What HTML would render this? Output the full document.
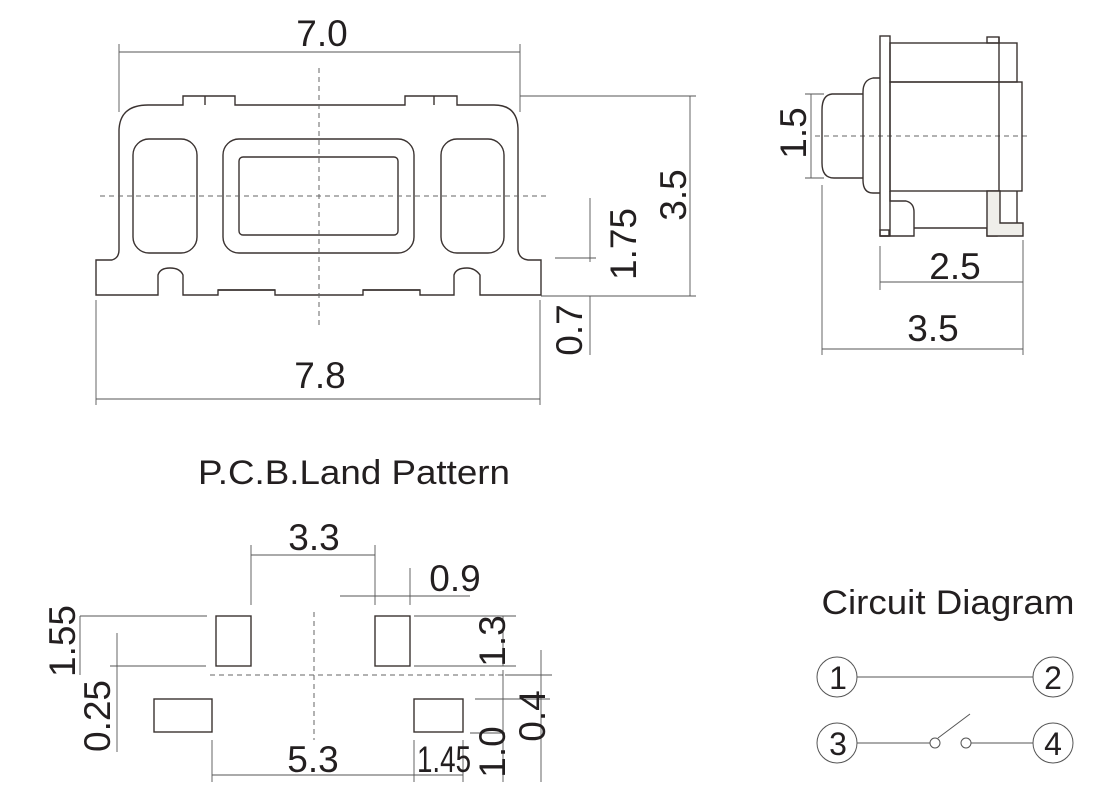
<!DOCTYPE html>
<html><head><meta charset="utf-8"><style>
html,body{margin:0;padding:0;background:#fff}
svg{display:block}
text{font-family:"Liberation Sans",Arial,sans-serif;fill:#231f20}
</style></head><body>
<svg width="1120" height="802" viewBox="0 0 1120 802" xmlns="http://www.w3.org/2000/svg">
<g fill="none" stroke="#3a3230" stroke-width="1.4">
<path d="M96 260 L112 260 Q119 258 119 250 L119 130 Q120 105 148 105 L183 105 L183 96 L235 96 L235 105 L405 105 L405 96 L457 96 L457 105 L494 105 Q518 105 518 130 L518 250 Q519 259 528 260 L541 260 L541 295 L480 295 L480 275 Q475 268 467 268 Q456 268 454 275 L454 295 L420 295 L420 290 L363 290 L363 295 L275 295 L275 290 L218 290 L218 295 L183 295 L183 275 Q180 268 170 268 Q160 268 158 275 L158 295 L96 295 Z"/>
<line x1="205" y1="96" x2="205" y2="105"/>
<line x1="434" y1="96" x2="434" y2="105"/>
<line x1="218" y1="290" x2="275" y2="290"/>
<line x1="363" y1="290" x2="420" y2="290"/>
<rect x="133" y="139" width="64" height="114" rx="16"/>
<rect x="223" y="139" width="191" height="114" rx="16"/>
<rect x="239" y="157" width="159" height="78" rx="4"/>
<rect x="441" y="139" width="63" height="114" rx="16"/>
</g>
<g stroke="#666" stroke-width="1" stroke-dasharray="5,4" fill="none">
<line x1="319" y1="68" x2="319" y2="325"/>
<line x1="100" y1="196" x2="548" y2="196"/>
<line x1="815" y1="136" x2="1030" y2="136"/>
<line x1="314" y1="612" x2="314" y2="740"/>
<line x1="210" y1="675" x2="550" y2="675"/>
</g>
<g stroke="#555" stroke-width="0.9" fill="none">
<line x1="119" y1="44" x2="119" y2="112"/><line x1="520" y1="44" x2="520" y2="112"/>
<line x1="119" y1="52" x2="520" y2="52"/>
<line x1="520" y1="96" x2="696" y2="96"/><line x1="541" y1="296" x2="696" y2="296"/>
<line x1="690" y1="96" x2="690" y2="296"/>
<line x1="590" y1="198" x2="590" y2="262"/><line x1="555" y1="258" x2="596" y2="258"/>
<line x1="590" y1="296" x2="590" y2="355"/>
<line x1="96" y1="300" x2="96" y2="405"/><line x1="540" y1="300" x2="540" y2="405"/>
<line x1="96" y1="399" x2="540" y2="399"/>
</g>
<g font-size="37" text-anchor="middle">
<text x="322" y="46">7.0</text>
<text x="320" y="388">7.8</text>
<text transform="translate(686,195) rotate(-90)">3.5</text>
<text transform="translate(636,244) rotate(-90)">1.75</text>
<text transform="translate(582,330) rotate(-90)">0.7</text>
</g>
<g fill="none" stroke="#3a3230" stroke-width="1.4">
<rect x="880" y="36" width="10" height="200"/>
<rect x="890" y="43" width="127" height="39"/>
<rect x="987" y="37" width="12" height="6"/>
<rect x="890" y="82" width="132" height="109"/>
<line x1="999" y1="37" x2="999" y2="196"/>
<path d="M880 78 L873 78 Q863 80 863 92 L863 180 Q863 193 873 193 L880 193"/>
<path d="M863 94 L832 94 Q822 95 822 110 L822 163 Q822 178 834 178 L863 178"/>
<path d="M890 191 L890 201 L906 201 Q914 203 914 212 L914 236 L880 236"/>
<line x1="914" y1="228" x2="987" y2="228"/>
<rect x="987" y="229" width="10" height="7"/>
<path d="M987 191 L1000 191 L1000 223 L1023 223 L1023 236 L997 236 L987 236 Z" fill="#efeeea"/>
<line x1="1017" y1="191" x2="1017" y2="223"/>
<rect x="880" y="230" width="9" height="6"/>
</g>
<g stroke="#555" stroke-width="0.9" fill="none">
<line x1="805" y1="94" x2="824" y2="94"/><line x1="805" y1="178" x2="824" y2="178"/>
<line x1="811" y1="94" x2="811" y2="178"/>
<line x1="880" y1="246" x2="880" y2="290"/><line x1="1023" y1="240" x2="1023" y2="355"/>
<line x1="880" y1="282" x2="1023" y2="282"/>
<line x1="822" y1="185" x2="822" y2="355"/>
<line x1="822" y1="349" x2="1023" y2="349"/>
</g>
<g font-size="37" text-anchor="middle">
<text transform="translate(806,133) rotate(-90)">1.5</text>
<text x="955" y="279">2.5</text>
<text x="933" y="341">3.5</text>
</g>
<g font-size="34" text-anchor="middle">
<text x="354" y="484" textLength="312" lengthAdjust="spacingAndGlyphs">P.C.B.Land Pattern</text>
<text x="948" y="614" textLength="253" lengthAdjust="spacingAndGlyphs">Circuit Diagram</text>
</g>
<g fill="none" stroke="#3a3230" stroke-width="1.4">
<rect x="216" y="616" width="35" height="50"/>
<rect x="375" y="616" width="35" height="50"/>
<rect x="154" y="699" width="58" height="33"/>
<rect x="414" y="699" width="49" height="33"/>
</g>
<g stroke="#555" stroke-width="0.9" fill="none">
<line x1="251" y1="545" x2="251" y2="605"/><line x1="375" y1="545" x2="375" y2="605"/>
<line x1="251" y1="555" x2="375" y2="555"/>
<line x1="410" y1="568" x2="410" y2="605"/>
<line x1="340" y1="596" x2="470" y2="596"/>
<line x1="414" y1="616" x2="516" y2="616"/><line x1="414" y1="666" x2="516" y2="666"/>
<line x1="503" y1="616" x2="503" y2="666"/>
<line x1="80" y1="616" x2="207" y2="616"/><line x1="110" y1="666" x2="206" y2="666"/>
<line x1="80" y1="616" x2="80" y2="675"/>
<line x1="117" y1="633" x2="117" y2="752"/>
<line x1="212" y1="740" x2="212" y2="782"/><line x1="414" y1="740" x2="414" y2="782"/><line x1="463" y1="740" x2="463" y2="782"/>
<line x1="212" y1="775" x2="463" y2="775"/>
<line x1="503" y1="670" x2="503" y2="782"/><line x1="541" y1="650" x2="541" y2="782"/>
<line x1="475" y1="699" x2="550" y2="699"/><line x1="470" y1="733" x2="505" y2="733"/>
<line x1="505" y1="675" x2="552" y2="675"/>
</g>
<g font-size="37" text-anchor="middle">
<text x="314" y="550">3.3</text>
<text x="455" y="591">0.9</text>
<text transform="translate(505,641) rotate(-90)">1.3</text>
<text transform="translate(75,641) rotate(-90)">1.55</text>
<text transform="translate(110,716) rotate(-90)">0.25</text>
<text x="313" y="772">5.3</text>
<text x="444" y="772" textLength="54" lengthAdjust="spacingAndGlyphs">1.45</text>
<text transform="translate(505,752) rotate(-90)">1.0</text>
<text transform="translate(545,716) rotate(-90)">0.4</text>
</g>
<g fill="none" stroke="#555" stroke-width="1">
<circle cx="837" cy="677" r="20"/><circle cx="1053" cy="677" r="20"/>
<circle cx="837" cy="743" r="20"/><circle cx="1053" cy="743" r="20"/>
<line x1="857" y1="677" x2="1033" y2="677"/>
<line x1="857" y1="743" x2="930" y2="743"/>
<circle cx="935" cy="743" r="5"/><circle cx="966" cy="743" r="5"/>
<line x1="971" y1="743" x2="1033" y2="743"/>
<line x1="938" y1="738" x2="970" y2="714"/>
</g>
<g font-size="32" text-anchor="middle">
<text x="838" y="689">1</text>
<text x="1053" y="689">2</text>
<text x="838" y="755">3</text>
<text x="1053" y="755">4</text>
</g>
</svg>
</body></html>
